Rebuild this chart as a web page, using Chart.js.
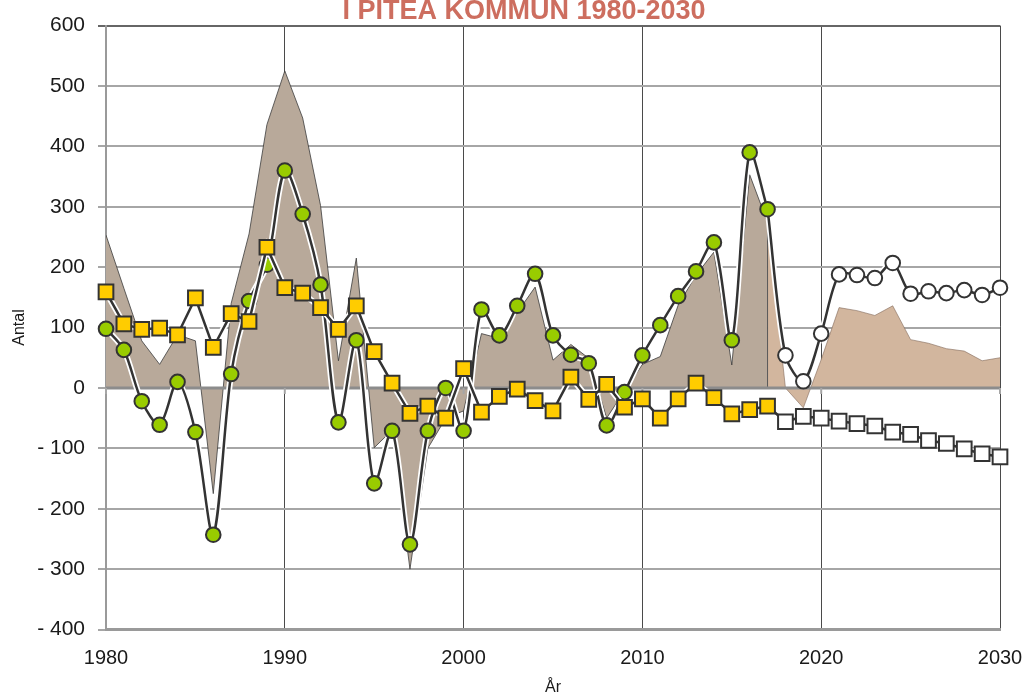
<!DOCTYPE html>
<html>
<head>
<meta charset="utf-8">
<script src="https://cdn.jsdelivr.net/npm/chart.js@4/dist/chart.umd.min.js"></script>
<style>
  html, body { margin: 0; padding: 0; background: #fff; overflow: hidden; }
  canvas { display: block; }
</style>
</head>
<body>
<canvas id="chart" width="1027" height="695"></canvas>
<script>
// Befolkningsförändring i Piteå kommun 1980-2030
const histYears = [1980, 1981, 1982, 1983, 1984, 1985, 1986, 1987, 1988, 1989,
    1990, 1991, 1992, 1993, 1994, 1995, 1996, 1997, 1998, 1999,
    2000, 2001, 2002, 2003, 2004, 2005, 2006, 2007, 2008, 2009,
    2010, 2011, 2012, 2013, 2014, 2015, 2016, 2017];
const prognosYears = [2017, 2018, 2019, 2020, 2021, 2022, 2023, 2024, 2025, 2026, 2027, 2028, 2029, 2030];

// utfall
const folkokning = [98, 63, -22, -61, 10, -73, -243, 23, 144, 204,
    360, 288, 171, -57, 79, -158, -71, -259, -71, 0,
    -71, 130, 87, 136, 189, 87, 55, 41, -62, -7,
    54, 104, 152, 193, 241, 79, 390, 296];
const fodelseoverskott = [159, 106, 97, 99, 88, 149, 67, 123, 110, 233,
    166, 157, 133, 97, 136, 60, 8, -42, -30, -50,
    32, -40, -14, -2, -21, -38, 18, -19, 6, -32,
    -18, -50, -18, 8, -16, -43, -36, -30];
const flyttnetto = [253, 165, 78, 39, 88, 78, -175, 140, 255, 436,
    525, 447, 302, 45, 215, -99, -70, -300, -100, -50,
    -38, 90, 82, 125, 167, 46, 72, 49, -50, -5,
    39, 52, 137, 187, 225, 38, 353, 274];

// prognos (börjar i 2017 så att linjerna hänger ihop)
const prognosFolkokning = [296, 54, 11, 90, 188, 187, 182, 207, 156, 160, 157, 162, 154, 166];
const prognosFodelse = [-30, -56, -47, -50, -55, -59, -63, -73, -77, -87, -92, -101, -109, -114];
const prognosFlytt = [274, 0, -33, 47, 133, 128, 120, 136, 80, 74, 65, 61, 45, 50];

const yTicks = [-400, -300, -200, -100, 0, 100, 200, 300, 400, 500, 600];
const xTicks = [1980, 1990, 2000, 2010, 2020, 2030];

function toPoints(years, values) {
    return values.map((v, i) => ({ x: years[i], y: v }));
}

Chart.defaults.font.family = '"Liberation Sans", Arial, sans-serif';
Chart.defaults.color = '#1a1a1a';

const LINE = '#333333';

// linje med vit kant under
function halo(points, tension, order) {
    return {
        data: points, order: order, borderColor: '#ffffff', borderWidth: 6,
        pointRadius: 0, tension: tension, fill: false, clip: false
    };
}

// rita nollinjen ovanpå ytorna, samt kanten vid 2017
const axisPlugin = {
    id: 'axisPlugin',
    afterDatasetDraw(chart, args) {
        if (args.index !== 1) return;
        const ctx = chart.ctx;
        const x = chart.scales.x, y = chart.scales.y;
        const y0 = y.getPixelForValue(0);
        ctx.save();
        // kant på historiska ytan
        const xe = x.getPixelForValue(histYears[histYears.length - 1]);
        ctx.strokeStyle = '#555';
        ctx.lineWidth = 1;
        ctx.beginPath();
        ctx.moveTo(xe, y.getPixelForValue(flyttnetto[flyttnetto.length - 1]));
        ctx.lineTo(xe, y0);
        ctx.stroke();
        // nollinjen
        ctx.strokeStyle = '#8c8c8c';
        ctx.lineWidth = 3;
        ctx.beginPath();
        ctx.moveTo(chart.chartArea.left, y0);
        ctx.lineTo(chart.chartArea.right, y0);
        ctx.stroke();
        ctx.lineWidth = 2;
        ctx.strokeStyle = '#a6a6a6';
        xTicks.forEach(t => {
            const px = x.getPixelForValue(t);
            ctx.beginPath();
            ctx.moveTo(px, y0);
            ctx.lineTo(px, y0 + 6);
            ctx.stroke();
        });
        ctx.restore();
    },
    afterDraw(chart) {
        const ctx = chart.ctx;
        ctx.save();
        ctx.fillStyle = '#cd6e5f';
        ctx.font = 'bold 27px "Liberation Sans", Arial, sans-serif';
        ctx.textAlign = 'center';
        ctx.textBaseline = 'alphabetic';
        ctx.fillText('I PITEÅ KOMMUN 1980-2030', 524, 18.5);
        ctx.restore();
    }
};

const hist = toPoints(histYears, folkokning);
const histF = toPoints(histYears, fodelseoverskott);
const progF = toPoints(prognosYears, prognosFolkokning);
const progB = toPoints(prognosYears, prognosFodelse);

const ctxChart = document.getElementById('chart').getContext('2d');
new Chart(ctxChart, {
    type: 'line',
    data: {
        datasets: [
            {   // flyttnetto, utfall
                data: toPoints(histYears, flyttnetto), order: 10,
                fill: 'origin', backgroundColor: '#b8a99a',
                borderColor: 'rgba(60,60,60,0.8)', borderWidth: 1,
                pointRadius: 0, tension: 0
            },
            {   // flyttnetto, prognos
                data: toPoints(prognosYears, prognosFlytt), order: 9,
                fill: 'origin', backgroundColor: '#d2b69e',
                borderColor: 'rgba(130,105,90,0.6)', borderWidth: 1,
                pointRadius: 0, tension: 0
            },
            halo(progF, 0.3, 8),
            {   // folkökning, prognos
                data: progF, order: 7, clip: false,
                borderColor: LINE, borderWidth: 2.5, tension: 0.3,
                pointStyle: 'circle',
                pointRadius: c => c.dataIndex === 0 ? 0 : 7.3,
                pointBackgroundColor: '#ffffff',
                pointBorderColor: LINE, pointBorderWidth: 2
            },
            halo(hist, 0.3, 6),
            {   // folkökning, utfall
                data: hist, order: 5, clip: false,
                borderColor: LINE, borderWidth: 2.5, tension: 0.3,
                pointStyle: 'circle', pointRadius: 7.3,
                pointBackgroundColor: '#99cc00',
                pointBorderColor: LINE, pointBorderWidth: 2
            },
            halo(progB, 0, 4),
            {   // födelseöverskott, prognos
                data: progB, order: 3, clip: false,
                borderColor: LINE, borderWidth: 2.5, tension: 0,
                pointStyle: 'rect',
                pointRadius: c => c.dataIndex === 0 ? 0 : 10.4,
                pointBackgroundColor: '#ffffff',
                pointBorderColor: LINE, pointBorderWidth: 2
            },
            halo(histF, 0, 2),
            {   // födelseöverskott, utfall
                data: histF, order: 1, clip: false,
                borderColor: LINE, borderWidth: 2.5, tension: 0,
                pointStyle: 'rect', pointRadius: 10.4,
                pointBackgroundColor: '#ffcc00',
                pointBorderColor: LINE, pointBorderWidth: 2
            }
        ]
    },
    options: {
        responsive: false,
        animation: false,
        layout: { padding: { top: 22.7, right: 27, bottom: 0, left: 0 } },
        plugins: {
            legend: { display: false },
            tooltip: { enabled: false },
            title: { display: false }
        },
        scales: {
            x: {
                type: 'linear',
                min: xTicks[0], max: xTicks[xTicks.length - 1],
                afterBuildTicks: s => { s.ticks = xTicks.map(v => ({ value: v })); },
                afterFit: s => { s.height = 65.5; s.paddingLeft = 0; s.paddingRight = 0; },
                ticks: { padding: 17, font: { size: 20 }, color: '#1a1a1a',
                    callback: v => String(v) },
                grid: {
                    drawTicks: false,
                    color: c => c.tick && c.tick.value === 1980 ? '#9a9a9a' : '#4a4a4a',
                    lineWidth: c => c.tick && c.tick.value === 1980 ? 2 : 1
                },
                border: { color: '#9a9a9a', width: 3 },
                title: { display: true, text: 'År', font: { size: 16 },
                    color: '#1a1a1a', padding: { top: 0, bottom: -2 } }
            },
            y: {
                min: yTicks[0], max: yTicks[yTicks.length - 1],
                afterBuildTicks: s => { s.ticks = yTicks.map(v => ({ value: v })); },
                afterFit: s => { s.width = 106; },
                ticks: { padding: 13, font: { size: 21 }, color: '#1a1a1a',
                    callback: v => v < 0 ? '- ' + Math.abs(v) : String(v) },
                grid: {
                    tickLength: 8,
                    color: c => c.tick && c.tick.value === 600 ? '#666666' : '#a6a6a6',
                    lineWidth: 2
                },
                border: { color: '#9a9a9a', width: 2 },
                title: { display: true, text: 'Antal', font: { size: 16 },
                    color: '#1a1a1a', padding: { top: 10, bottom: 0 } }
            }
        }
    },
    plugins: [axisPlugin]
});
</script>
</body>
</html>
